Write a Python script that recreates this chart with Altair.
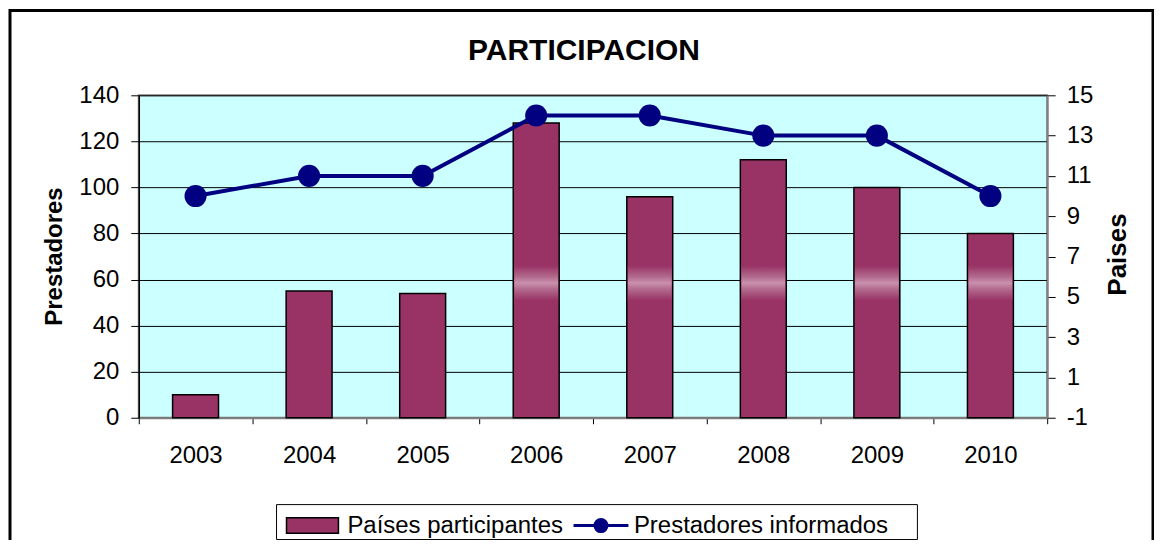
import altair as alt
import pandas as pd

years = ["2003", "2004", "2005", "2006", "2007", "2008", "2009", "2010"]
prestadores = [10, 55, 54, 128, 96, 112, 100, 80]
paises = [10, 11, 11, 14, 14, 13, 13, 10]
left_ticks = [0, 20, 40, 60, 80, 100, 120, 140]
right_ticks = [-1, 1, 3, 5, 7, 9, 11, 13, 15]
bar_name = "Países participantes"
line_name = "Prestadores informados"
title_text = "PARTICIPACION"

df = pd.DataFrame({"year": years, "prest": prestadores, "paises": paises,
                   "bar_s": bar_name, "line_s": line_name})
deco = pd.DataFrame({"d": [0]})

FONT = "Liberation Sans"
W, H = 910, 323
MAROON = "#993366"
NAVY = "#000080"

x_enc = alt.X("year:N", title=None, sort=years,
              scale=alt.Scale(paddingInner=0, paddingOuter=0),
              axis=alt.Axis(tickBand="extent", labelAngle=0, labelFontSize=24, labelFont=FONT,
                            labelColor="black", labelPadding=20, tickSize=6, tickColor="black",
                            domainColor="#808080", domainWidth=2, grid=False))

left_scale = alt.Scale(domain=[0, 140], nice=False, zero=False)
left_axis = alt.Axis(values=left_ticks, title="Prestadores", titleFont=FONT, titleFontSize=24,
                     titleFontWeight="bold", titleColor="black", titleAngle=270,
                     titleX=-84, titleY=161, titleAlign="center", titleBaseline="middle",
                     labelFont=FONT, labelFontSize=24, labelColor="black", labelPadding=12,
                     labelExpr="'' + datum.value",
                     tickSize=8, tickColor="black", domainColor="black", domainWidth=1.5,
                     grid=True, gridColor="black", gridWidth=1)

right_scale = alt.Scale(domain=[-1, 15], nice=False, zero=False)
right_axis = alt.Axis(orient="right", values=right_ticks, title="Paises", titleFont=FONT,
                      titleFontSize=26, titleFontWeight="bold", titleColor="black", titleAngle=270,
                      titleX=70, titleY=159, titleAlign="center", titleBaseline="middle",
                      labelFont=FONT, labelFontSize=24, labelColor="black", labelPadding=11,
                      labelExpr="'' + datum.value",
                      tickSize=8, tickColor="black", domainColor="#808080", domainWidth=2,
                      grid=False)

bars = alt.Chart(df).mark_bar(size=46, stroke="black", strokeWidth=1.5).encode(
    x=x_enc,
    y=alt.Y("prest:Q", scale=left_scale, axis=left_axis),
    fill=alt.Fill("bar_s:N", scale=alt.Scale(domain=[bar_name], range=[MAROON]),
                  legend=alt.Legend(orient="none", legendX=147, legendY=404, title=None,
                                    symbolType="M-1,-0.3H1V0.3H-1Z", symbolSize=2704,
                                    symbolStrokeColor="black", symbolStrokeWidth=1.5,
                                    labelFont=FONT, labelFontSize=24, labelColor="black",
                                    labelOffset=8, labelLimit=400, padding=0)),
)

grad = alt.Gradient(
    gradient="linear", x1=0, x2=0, y1=0, y2=1,
    stops=[alt.GradientStop(color=MAROON, offset=0),
           alt.GradientStop(color="#b0668a", offset=0.3),
           alt.GradientStop(color="#c990ae", offset=0.5),
           alt.GradientStop(color="#b0668a", offset=0.7),
           alt.GradientStop(color=MAROON, offset=1)])

band = alt.Chart(df).transform_filter("datum.prest > 66").mark_bar(size=44, color=grad).encode(
    x=alt.X("year:N", sort=years),
    y=alt.Y(datum=51, scale=left_scale, axis=left_axis),
    y2=alt.Y2(datum=66),
)

legend_box = alt.Chart(deco).mark_rect(fill="white", stroke="black", strokeWidth=1).encode(
    x=alt.value(138), x2=alt.value(780), y=alt.value(410), y2=alt.value(445))

outer = alt.Chart(deco).mark_rect(fill=None, stroke="black", strokeWidth=3, fillOpacity=0).encode(
    x=alt.value(-129), x2=alt.value(1016), y=alt.value(-85), y2=alt.value(470))

title = alt.Chart(deco).mark_text(text=title_text, font=FONT, fontSize=30, fontWeight="bold",
                                  color="black", align="center", baseline="alphabetic").encode(
    x=alt.value(446), y=alt.value(-35))

line = alt.Chart(df).mark_line(color=NAVY, strokeWidth=4).encode(
    x=alt.X("year:N", sort=years),
    y=alt.Y("paises:Q", scale=right_scale, axis=right_axis),
    stroke=alt.Stroke("line_s:N", scale=alt.Scale(domain=[line_name], range=[NAVY]),
                      legend=alt.Legend(orient="none", legendX=434, legendY=402, title=None,
                                        symbolType="M-1,0H1M-0.22,0A0.22,0.22 0 1,0 0.22,0A0.22,0.22 0 1,0 -0.22,0Z",
                                        symbolSize=3025, symbolFillColor=NAVY,
                                        symbolStrokeWidth=3,
                                        labelFont=FONT, labelFontSize=24, labelColor="black",
                                        labelOffset=4, labelLimit=400, padding=0)),
)

points = alt.Chart(df).mark_circle(size=490, color=NAVY, opacity=1).encode(
    x=alt.X("year:N", sort=years),
    y=alt.Y("paises:Q", scale=right_scale, axis=right_axis),
)

left = alt.layer(legend_box, outer, title, bars, band)
right = alt.layer(line, points)

chart = alt.layer(left, right).resolve_scale(y="independent", fill="independent", stroke="independent").properties(
    width=W, height=H,
    autosize=alt.AutoSizeParams(type="none"),
    padding={"left": 131, "top": 87, "right": 107, "bottom": 122},
    background="white",
).configure_view(fill="#CCFFFF", stroke="#808080", strokeWidth=2)

chart.save("out.html", embed_options={"renderer": "svg", "actions": False})
